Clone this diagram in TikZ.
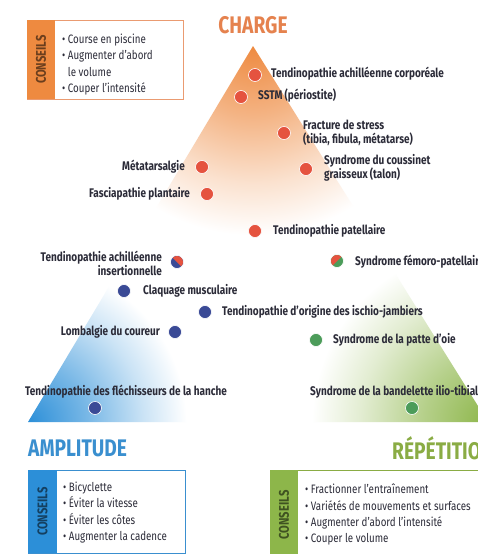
\documentclass[tikz,border=0pt]{standalone}
\usepackage{fontspec}
\setmainfont{Fira Sans}[FakeStretch=0.8]
\definecolor{corange}{HTML}{EE8A40}
\definecolor{cblue}{HTML}{2C8FD8}
\definecolor{cgreen}{HTML}{8DB64A}
\definecolor{tor}{HTML}{E5824E}
\definecolor{tbl}{HTML}{3A8FCF}
\definecolor{tgr}{HTML}{8AAC44}
\definecolor{dred}{HTML}{E5533F}
\definecolor{dblue}{HTML}{3A4A96}
\definecolor{dgreen}{HTML}{4C9C5A}
\definecolor{ctext}{HTML}{2B2B38}
\pgfdeclareradialshading{orfade}{\pgfpoint{0bp}{0bp}}{color(0bp)=(corange); color(8bp)=(corange!65); color(16bp)=(corange!25); color(22bp)=(white); color(50bp)=(white)}
\pgfdeclareradialshading{blfade}{\pgfpoint{0bp}{0bp}}{color(0bp)=(cblue); color(8bp)=(cblue!65); color(16bp)=(cblue!25); color(22bp)=(white); color(50bp)=(white)}
\pgfdeclareradialshading{grfade}{\pgfpoint{0bp}{0bp}}{color(0bp)=(cgreen); color(8bp)=(cgreen!65); color(16bp)=(cgreen!25); color(22bp)=(white); color(50bp)=(white)}
\begin{document}
\begin{tikzpicture}[x=1pt,y=-1pt,
  lab/.style={font=\bfseries\fontsize{12.5}{14}\selectfont, text=ctext, inner sep=0pt},
  dot/.style={circle, minimum size=13pt, inner sep=0pt, fill=dred, draw=white, line width=0.6pt},
  title/.style={font=\bfseries\fontsize{24}{26}\selectfont, inner sep=0pt},
  tips/.style={font=\fontsize{12.2}{16.2}\selectfont, text=ctext, align=left, anchor=north west, inner sep=0pt},
  vert/.style={font=\bfseries\fontsize{14}{16}\selectfont, rotate=90, inner sep=0pt}]
\useasboundingbox (0,0) rectangle (478,554);
\clip (0,0) rectangle (478,554);
\fill[white] (0,0) rectangle (478,554);
% triangle with corner gradients
\begin{scope}
\clip (253,46) -- (28,422) -- (488,422) -- cycle;
\shade[shading=orfade] (253,46) circle (215);
\shade[blend mode=multiply, shading=blfade] (28,422) circle (180);
\shade[blend mode=multiply, shading=grfade] (488,422) circle (200);
\end{scope}
% titles
\node[title, text=tor] (charge) at (253,25) {CHARGE};
\node[title, text=tbl, anchor=west] (ampl) at (28,448) {AMPLITUDE};
\node[title, text=tgr, anchor=west] (rep) at (392,448) {RÉPÉTITION};
% conseils boxes
\draw[tor!80, line width=0.8pt] (27,20) rectangle (183,99);
\fill[corange] (27,20) rectangle (55,99);
\node[vert, text=black!55!corange] (c1) at (41,59.5) {CONSEILS};
\node[tips] (t1) at (62,34) {• Course en piscine\\• Augmenter d'abord\\\phantom{• }le volume\\• Couper l'intensité};
\draw[tbl, line width=0.8pt] (28,470) rectangle (185,553);
\fill[cblue] (28,470) rectangle (57,553);
\node[vert, text=black!55!cblue] (c2) at (42.5,511.5) {CONSEILS};
\node[tips] (t2) at (63,482) {• Bicyclette\\• Éviter la vitesse\\• Éviter les côtes\\• Augmenter la cadence};
\draw[tgr, line width=0.8pt] (270,470) rectangle (490,560);
\fill[cgreen] (270,470) rectangle (298,560);
\node[vert, text=black!55!cgreen] (c3) at (284,515) {CONSEILS};
\node[tips] (t3) at (305,484) {• Fractionner l'entraînement\\• Variétés de mouvements et surfaces\\• Augmenter d'abord l'intensité\\• Couper le volume};
% dots and labels
\node[dot] (d1) at (255,75) {};
\node[lab, anchor=west] (l1) at (271,74) {Tendinopathie achilléenne corporéale};
\node[dot] (d2) at (241,97) {};
\node[lab, anchor=west] (l2) at (258,96) {SSTM (périostite)};
\node[dot] (d3) at (284,133) {};
\node[lab, anchor=west, align=left] (l3) at (303,133) {Fracture de stress\\(tibia, fibula, métatarse)};
\node[dot] (d4) at (306,169) {};
\node[lab, anchor=west, align=left] (l4) at (324,168) {Syndrome du coussinet\\graisseux (talon)};
\node[dot] (d5) at (202,167) {};
\node[lab, anchor=east] (l5) at (185,167) {Métatarsalgie};
\node[dot] (d6) at (207,194) {};
\node[lab, anchor=east] (l6) at (190,194) {Fasciapathie plantaire};
\node[dot] (d7) at (255,231) {};
\node[lab, anchor=west] (l7) at (273,231) {Tendinopathie patellaire};
\node[dot, fill=dblue] (d8) at (177,262) {};
\begin{scope}
\clip (167,252) -- (187,252) -- (187,272) -- cycle;
\fill[dred] (d8.center) circle (6);
\end{scope}
\node[lab, anchor=east, align=right] (l8) at (162,263) {Tendinopathie achilléenne\\insertionnelle};
\node[dot, fill=dgreen] (d9) at (337,261) {};
\begin{scope}
\clip (327,271) -- (327,251) -- (347,251) -- cycle;
\fill[dred] (d9.center) circle (6);
\end{scope}
\node[lab, anchor=west] (l9) at (355,262) {Syndrome fémoro-patellaire};
\node[dot, fill=dblue] (d10) at (124,291) {};
\node[lab, anchor=west] (l10) at (143,291) {Claquage musculaire};
\node[dot, fill=dblue] (d11) at (205,312) {};
\node[lab, anchor=west] (l11) at (222,312) {Tendinopathie d'origine des ischio-jambiers};
\node[dot, fill=dblue] (d12) at (175,332) {};
\node[lab, anchor=east] (l12) at (160,332) {Lombalgie du coureur};
\node[dot, fill=dgreen] (d13) at (316,340) {};
\node[lab, anchor=west] (l13) at (333,340) {Syndrome de la patte d'oie};
\node[lab] (l14) at (126,392) {Tendinopathie des fléchisseurs de la hanche};
\node[dot, fill=dblue] (d14) at (95,408) {};
\node[lab, anchor=west] (l15) at (310,392) {Syndrome de la bandelette ilio-tibiale};
\node[dot, fill=dgreen] (d15) at (412,408) {};
\end{tikzpicture}
\end{document}
